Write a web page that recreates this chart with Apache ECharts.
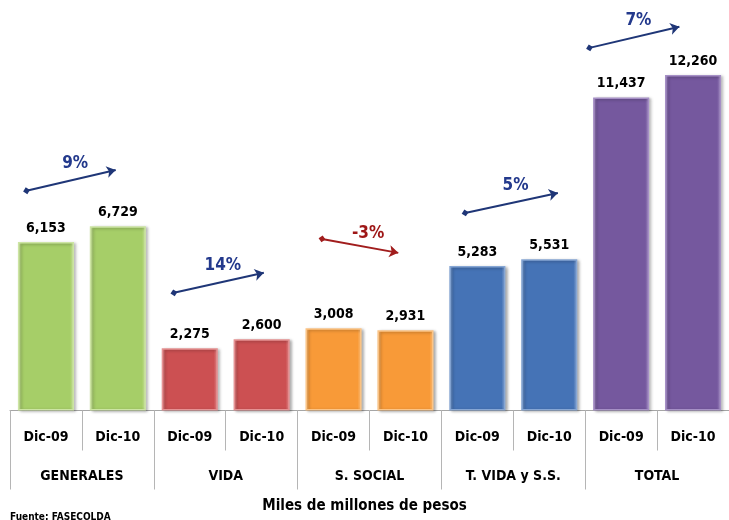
<!DOCTYPE html>
<html>
<head>
<meta charset="utf-8">
<script src="https://cdn.jsdelivr.net/npm/echarts@6/dist/echarts.min.js"></script>
<style>
html,body{margin:0;padding:0;background:#fff;}
#chart{width:729px;height:520px;}
</style>
</head>
<body>
<div id="chart"></div>
<script>
// datos (miles de millones de pesos)
var grupos = ['GENERALES', 'VIDA', 'S. SOCIAL', 'T. VIDA y S.S.', 'TOTAL'];
var periodos = ['Dic-09', 'Dic-10'];
var dic09 = [6153, 2275, 3008, 5283, 11437];
var dic10 = [6729, 2600, 2931, 5531, 12260];

// colores por grupo [base, claro]
var colores = [
  ['#A6CE68', '#CDE5A4'],
  ['#CC5052', '#E69293'],
  ['#F89A38', '#FCC485'],
  ['#4573B6', '#86A6D4'],
  ['#75589E', '#A690C6']
];

// flechas: inicio / fin en unidades del eje (x = posicion de categoria, y = valor)
var flechaIni = [[0.23, 8030], [2.28, 4300], [4.34, 6270], [6.33, 7220], [8.06, 13250]];
var flechaFin = [[1.47, 8790], [3.53, 5030], [5.40, 5760], [7.62, 7950], [9.31, 14020]];

var FONT = "'DejaVu Sans Condensed', 'Liberation Sans Narrow', Arial, sans-serif";

var categorias = [];
var barras = [];
grupos.forEach(function (g, i) {
  [dic09[i], dic10[i]].forEach(function (v, j) {
    categorias.push(periodos[j]);
    barras.push({
      value: v,
      itemStyle: {
        color: {
          type: 'linear', x: 0, y: 0, x2: 1, y2: 0,
          colorStops: [
            { offset: 0, color: colores[i][1] },
            { offset: 0.07, color: colores[i][0] },
            { offset: 0.93, color: colores[i][0] },
            { offset: 1, color: colores[i][1] }
          ]
        },
        borderColor: colores[i][1],
        borderWidth: 1.5
      }
    });
  });
});

var flechas = [];
var textos = [];
grupos.forEach(function (g, i) {
  var pct = Math.round((dic10[i] / dic09[i] - 1) * 100);
  var col = pct < 0 ? '#A11D1D' : '#1F3677';
  flechas.push({ coords: [flechaIni[i], flechaFin[i]], lineStyle: { color: col } });
  textos.push({
    value: [(flechaIni[i][0] + flechaFin[i][0]) / 2, (flechaIni[i][1] + flechaFin[i][1]) / 2],
    pct: pct + '%',
    label: { color: pct < 0 ? '#9E1616' : '#23398C', offset: pct < 0 ? [8, -12] : [4, -17] }
  });
});

var myChart = echarts.init(document.getElementById('chart'));
var option = {
  animation: false,
  textStyle: { fontFamily: FONT },
  grid: { left: 10, top: 0, width: 728, height: 410.5, containLabel: false },
  xAxis: [
    {
      type: 'category',
      data: categorias,
      axisLine: { show: true, lineStyle: { color: '#A6A6A6', width: 1 } },
      axisTick: { show: true, length: 40, lineStyle: { color: '#B5B5B5', width: 1 } },
      axisLabel: { margin: 20, color: '#000', fontWeight: 'bold', fontSize: 14, fontFamily: FONT, interval: 0 }
    },
    {
      type: 'category',
      data: grupos,
      position: 'bottom',
      axisLine: { show: false },
      axisTick: { show: true, length: 79, lineStyle: { color: '#B5B5B5', width: 1 } },
      axisLabel: { margin: 59, color: '#000', fontWeight: 'bold', fontSize: 14, fontFamily: FONT, interval: 0 }
    },
    { type: 'value', min: 0, max: 10, show: false }
  ],
  yAxis: { type: 'value', min: 0, max: 15000, show: false },
  graphic: [
    {
      type: 'text', left: 'center', top: 499,
      style: { text: 'Miles de millones de pesos', font: 'bold 15px ' + FONT, fill: '#000' },
      x: 25
    },
    {
      type: 'text', left: 10, top: 512,
      style: { text: 'Fuente: FASECOLDA', font: 'bold 10px ' + FONT, fill: '#000' }
    }
  ],
  series: [
    {
      type: 'bar',
      xAxisIndex: 0,
      data: barras,
      barCategoryGap: '22%',
      itemStyle: { shadowColor: 'rgba(0,0,0,0.3)', shadowBlur: 3, shadowOffsetX: 2, shadowOffsetY: 1 },
      label: {
        show: true, position: 'top', distance: 7,
        color: '#000', fontWeight: 'bold', fontSize: 14, fontFamily: FONT,
        formatter: function (p) { return echarts.format.addCommas(p.value); }
      }
    },
    {
      type: 'lines',
      coordinateSystem: 'cartesian2d',
      xAxisIndex: 2,
      yAxisIndex: 0,
      symbol: ['diamond', 'arrow'],
      symbolSize: [7, 9],
      lineStyle: { width: 2, opacity: 1 },
      data: flechas,
      z: 5
    },
    {
      type: 'scatter',
      xAxisIndex: 2,
      yAxisIndex: 0,
      symbolSize: 0,
      itemStyle: { opacity: 1 },
      data: textos,
      label: {
        show: true, position: 'inside', fontWeight: 'bold', fontSize: 17, fontFamily: FONT,
        opacity: 1,
        formatter: function (p) { return p.data.pct; }
      },
      z: 6
    }
  ]
};
myChart.setOption(option);
window.onresize = myChart.resize;
</script>
</body>
</html>
